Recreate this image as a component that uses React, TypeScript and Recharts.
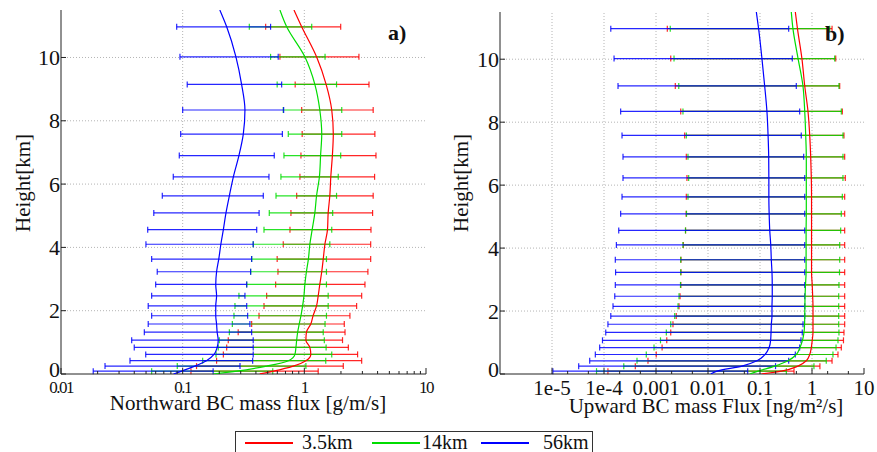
import React from 'react';
import { ScatterChart, Scatter, XAxis, YAxis, ReferenceLine, ErrorBar } from 'recharts';

const FONT = '"Liberation Serif", "Times New Roman", Times, serif';
const RED = '#ff0000';
const GREEN = '#00dd00';
const BLUE = '#0000ff';
const AXIS = '#222222';
const GRID = '#b4b4b4';

// model levels (km) of the spread bars, bottom to top
const HEIGHTS = [0.09, 0.25, 0.42, 0.62, 0.84, 1.07, 1.32, 1.58, 1.84, 2.15, 2.47, 2.83, 3.23, 3.63, 4.1, 4.56, 5.09, 5.63, 6.23, 6.9, 7.58, 8.34, 9.15, 10.02, 10.97];
// profile lines: surface, the levels, top of the frame
const LINE_HEIGHTS = [0, 0.09, 0.25, 0.42, 0.62, 0.84, 1.07, 1.32, 1.58, 1.84, 2.15, 2.47, 2.83, 3.23, 3.63, 4.1, 4.56, 5.09, 5.63, 6.23, 6.9, 7.58, 8.34, 9.15, 10.02, 10.97, 11.5];

const Y_TICKS = [0, 2, 4, 6, 8, 10];
const Y_TICK_LABELS = ['0', '2', '4', '6', '8', '10'];

// panel a) northward flux [g/m/s]
const A_MAJOR = [0.01, 0.1, 1, 10];
const A_MAJOR_LABELS = ['0.01', '0.1', '1', '10'];
const A_MINOR_STEPS = [2, 3, 4, 5, 6, 7, 8, 9];

const A_RED_LO = [0.117, 0.13, 0.19, 0.216, 0.23, 0.237, 0.286, 0.369, 0.424, 0.466, 0.49, 0.581, 0.607, 0.598, 0.671, 0.762, 0.776, 0.865, 0.92, 0.938, 0.96, 0.951, 0.841, 0.63, 0.481];
const A_RED_HI = [1.3, 2.09, 2.96, 2.74, 2.3, 2.06, 2.16, 2.13, 2.37, 2.69, 2.96, 3.15, 3.33, 3.51, 3.51, 3.53, 3.64, 3.68, 3.78, 3.88, 3.8, 3.68, 3.4, 2.81, 1.99];
const A_GREEN_LO = [0.0556, 0.0903, 0.146, 0.188, 0.196, 0.2, 0.242, 0.256, 0.264, 0.269, 0.29, 0.336, 0.362, 0.369, 0.38, 0.466, 0.515, 0.585, 0.642, 0.68, 0.738, 0.671, 0.598, 0.528, 0.353];
const A_GREEN_HI = [0.55, 1.03, 1.5, 1.68, 1.51, 1.46, 1.43, 1.48, 1.52, 1.57, 1.57, 1.52, 1.52, 1.52, 1.62, 1.68, 1.71, 1.84, 1.9, 1.99, 2.03, 2.03, 1.84, 1.48, 1.15];
const A_BLUE_LO = [0.0184, 0.023, 0.0369, 0.0497, 0.04, 0.0381, 0.0484, 0.0521, 0.0556, 0.0521, 0.0556, 0.06, 0.0618, 0.0556, 0.0499, 0.0516, 0.0579, 0.068, 0.0837, 0.0938, 0.0963, 0.1, 0.109, 0.095, 0.0893];
const A_BLUE_HI = [0.178, 0.296, 0.376, 0.38, 0.38, 0.38, 0.369, 0.357, 0.342, 0.336, 0.325, 0.336, 0.362, 0.369, 0.38, 0.406, 0.425, 0.46, 0.512, 0.566, 0.66, 0.676, 0.651, 0.61, 0.528];
const A_RED_MEAN = [0.43, 0.557, 0.81, 1.03, 1.13, 1.11, 1.03, 1.04, 1.13, 1.18, 1.26, 1.3, 1.34, 1.39, 1.43, 1.476, 1.55, 1.57, 1.62, 1.65, 1.7, 1.73, 1.68, 1.51, 1.26, 0.951, 0.822];
const A_GREEN_MEAN = [0.178, 0.278, 0.49, 0.74, 0.837, 0.853, 0.865, 0.881, 0.908, 0.938, 0.968, 0.993, 1.01, 1.04, 1.08, 1.11, 1.16, 1.22, 1.26, 1.33, 1.36, 1.39, 1.34, 1.22, 1.01, 0.716, 0.63];
const A_BLUE_MEAN = [0.084, 0.098, 0.126, 0.157, 0.181, 0.192, 0.196, 0.192, 0.19, 0.187, 0.187, 0.19, 0.187, 0.19, 0.198, 0.206, 0.216, 0.227, 0.242, 0.261, 0.29, 0.315, 0.325, 0.305, 0.274, 0.23, 0.202];

// panel b) upward flux [ng/m2/s]
const B_MAJOR = [1e-5, 1e-4, 1e-3, 0.01, 0.1, 1, 10];
const B_MAJOR_LABELS = ['1e-5', '1e-4', '0.001', '0.01', '0.1', '1', '10'];
const B_MINOR_STEPS = [2, 5];

const B_RED_LO = [1.19e-4, 4.0e-4, 7.01e-4, 1.01e-3, 1.31e-3, 1.61e-3, 1.92e-3, 2.12e-3, 2.45e-3, 2.77e-3, 2.9e-3, 3.0e-3, 3.02e-3, 3.02e-3, 3.35e-3, 3.7e-3, 3.8e-3, 3.83e-3, 3.94e-3, 3.83e-3, 3.56e-3, 2.99e-3, 2.35e-3, 1.92e-3, 1.65e-3];
const B_RED_HI = [0.451, 1.42, 2.43, 3.16, 3.66, 4.03, 4.12, 4.25, 4.25, 4.25, 4.25, 4.25, 4.25, 4.25, 4.25, 4.25, 4.25, 4.25, 4.37, 4.25, 4.12, 3.83, 3.41, 2.86, 2.43];
const B_GREEN_LO = [7.18e-5, 2.4e-4, 4.31e-4, 6.5e-4, 9.16e-4, 1.22e-3, 1.58e-3, 1.92e-3, 2.29e-3, 2.65e-3, 2.77e-3, 2.96e-3, 2.99e-3, 2.99e-3, 3.3e-3, 3.69e-3, 3.86e-3, 4.12e-3, 4.25e-3, 4.12e-3, 3.83e-3, 3.3e-3, 2.74e-3, 2.22e-3, 1.88e-3];
const B_GREEN_HI = [0.321, 1.09, 1.88, 2.53, 2.9, 3.16, 3.3, 3.26, 3.26, 3.26, 3.26, 3.3, 3.38, 3.41, 3.41, 3.56, 3.66, 3.83, 3.94, 3.94, 3.94, 3.66, 3.3, 2.73, 2.19];
const B_BLUE_LO = [1.04e-5, 3.26e-5, 5.31e-5, 6.81e-5, 8.26e-5, 9.35e-5, 1.08e-4, 1.19e-4, 1.35e-4, 1.49e-4, 1.61e-4, 1.65e-4, 1.67e-4, 1.65e-4, 1.73e-4, 1.92e-4, 2.09e-4, 2.22e-4, 2.32e-4, 2.32e-4, 2.22e-4, 2.09e-4, 1.86e-4, 1.56e-4, 1.35e-4];
const B_BLUE_HI = [0.058, 0.199, 0.356, 0.478, 0.579, 0.614, 0.65, 0.672, 0.725, 0.725, 0.725, 0.725, 0.725, 0.725, 0.725, 0.725, 0.725, 0.725, 0.725, 0.692, 0.622, 0.579, 0.499, 0.418, 0.356];
const B_RED_MEAN = [0.106, 0.257, 0.538, 0.777, 0.904, 0.97, 1.01, 1.045, 1.045, 1.045, 1.045, 1.03, 1.01, 0.98, 0.98, 0.98, 0.98, 0.98, 0.98, 0.97, 0.944, 0.904, 0.838, 0.725, 0.64, 0.525, 0.478];
const B_GREEN_MEAN = [0.0634, 0.0916, 0.192, 0.345, 0.499, 0.587, 0.656, 0.702, 0.72, 0.725, 0.73, 0.735, 0.75, 0.77, 0.77, 0.77, 0.77, 0.777, 0.777, 0.777, 0.777, 0.757, 0.725, 0.67, 0.54, 0.43, 0.4];
const B_BLUE_MEAN = [0.0113, 0.0149, 0.045, 0.0875, 0.125, 0.15, 0.16, 0.163, 0.165, 0.17, 0.17, 0.172, 0.172, 0.17, 0.165, 0.161, 0.154, 0.15, 0.148, 0.148, 0.147, 0.143, 0.136, 0.123, 0.109, 0.094, 0.085];

const LEGEND = [
  { name: '3.5km', color: RED },
  { name: '14km', color: GREEN },
  { name: '56km', color: BLUE },
];

interface Profile {
  color: string;
  lo: number[];
  hi: number[];
  mean: number[];
}

const barRows = (lo: number[], hi: number[]) =>
  HEIGHTS.map((h, i) => ({ x: lo[i], y: h, err: [0, hi[i] - lo[i]] }));
const lineRows = (mean: number[]) => LINE_HEIGHTS.map((h, i) => ({ x: mean[i], y: h }));

const minorTicks = (major: number[], steps: number[]) =>
  major.slice(0, -1).flatMap((d) => steps.map((s) => Number((d * s).toPrecision(3))));

const labelOf = (v: number, values: number[], labels: string[]) => {
  const i = values.findIndex((m) => Math.abs(m - v) <= Math.max(m, 1e-9) * 1e-6);
  return i >= 0 ? labels[i] : null;
};

const NoDot = () => <g />;

interface PanelProps {
  left: number;
  width: number;
  top: number;
  right: number;
  yAxisWidth: number;
  domain: [number, number];
  major: number[];
  majorLabels: string[];
  minorSteps: number[];
  tickFont: number;
  tickSpacing: number;
  tickBaseline: number;
  profiles: Profile[];
}

function Panel(p: PanelProps) {
  const height = 420;
  const xTicks = [...minorTicks(p.major, p.minorSteps), ...p.major].sort((a, b) => a - b);
  const gridX = p.major.filter((v) => v > p.domain[0] && v < p.domain[1]);
  const isMajor = (v: number) => p.major.some((m) => Math.abs(m - v) <= m * 1e-6);

  const bottomTick = (t: any) => {
    const v = t.payload.value;
    const label = labelOf(v, p.major, p.majorLabels);
    return (
      <g>
        <line x1={t.x} x2={t.x} y1={t.y} y2={t.y - (isMajor(v) ? 6 : 3)} stroke={AXIS} />
        {label && (
          <text x={t.x} y={t.y + p.tickBaseline} textAnchor="middle" fontSize={p.tickFont} letterSpacing={p.tickSpacing} fontFamily={FONT} fill="#111">
            {label}
          </text>
        )}
      </g>
    );
  };
  const topTick = (t: any) => (
    <line x1={t.x} x2={t.x} y1={t.y} y2={t.y + (isMajor(t.payload.value) ? 6 : 3)} stroke={AXIS} />
  );
  const leftTick = (t: any) => (
    <g>
      <line x1={t.x} x2={t.x + 5} y1={t.y} y2={t.y} stroke={AXIS} />
      <text x={t.x - 1} y={t.y + (t.payload.value === 0 ? 3 : 7.5)} textAnchor="end" fontSize={22} fontFamily={FONT} fill="#111">
        {labelOf(t.payload.value, Y_TICKS, Y_TICK_LABELS)}
      </text>
    </g>
  );
  const rightTick = (t: any) => <line x1={t.x} x2={t.x - 5} y1={t.y} y2={t.y} stroke={AXIS} />;

  return (
    <div style={{ position: 'absolute', left: p.left, top: 0 }}>
      <ScatterChart width={p.width} height={height} margin={{ top: p.top, right: p.right, bottom: 0, left: 0 }}>
        <XAxis xAxisId="b" type="number" dataKey="x" scale="log" domain={p.domain} allowDataOverflow ticks={xTicks} interval={0} height={46} tickSize={0} tickMargin={0} tickLine={false} axisLine={{ stroke: AXIS }} tick={bottomTick} />
        <XAxis xAxisId="t" orientation="top" type="number" dataKey="x" scale="log" domain={p.domain} allowDataOverflow ticks={xTicks} interval={0} height={0} tickSize={0} tickMargin={0} tickLine={false} axisLine={{ stroke: AXIS }} tick={topTick} />
        <YAxis yAxisId="l" type="number" dataKey="y" domain={[0, 11.5]} allowDataOverflow ticks={Y_TICKS} interval={0} width={p.yAxisWidth} tickSize={0} tickMargin={0} tickLine={false} axisLine={{ stroke: AXIS }} tick={leftTick} />
        <YAxis yAxisId="r" orientation="right" type="number" dataKey="y" domain={[0, 11.5]} allowDataOverflow ticks={Y_TICKS} interval={0} width={0} tickSize={0} tickMargin={0} tickLine={false} axisLine={{ stroke: AXIS }} tick={rightTick} />

        {gridX.map((v) => (
          <ReferenceLine key={`gx${v}`} xAxisId="b" yAxisId="l" x={v} stroke={GRID} strokeDasharray="1 2" />
        ))}
        {Y_TICKS.slice(1).map((v) => (
          <ReferenceLine key={`gy${v}`} xAxisId="b" yAxisId="l" y={v} stroke={GRID} strokeDasharray="1 2" />
        ))}

        {p.profiles.map((pr) => (
          <Scatter key={`bar${pr.color}`} xAxisId="b" yAxisId="l" data={barRows(pr.lo, pr.hi)} fill={pr.color} shape={NoDot} isAnimationActive={false}>
            <ErrorBar dataKey="err" direction="x" width={3} stroke={pr.color} strokeWidth={1.2} strokeOpacity={0.85} />
          </Scatter>
        ))}
        {p.profiles.map((pr) => (
          <Scatter key={`line${pr.color}`} xAxisId="b" yAxisId="l" data={lineRows(pr.mean)} fill={pr.color} line={{ stroke: pr.color, strokeWidth: 1.2 }} lineJointType="monotoneY" shape={NoDot} isAnimationActive={false} />
        ))}
      </ScatterChart>
    </div>
  );
}

const text = (extra: React.CSSProperties): React.CSSProperties => ({
  position: 'absolute',
  whiteSpace: 'nowrap',
  color: '#111',
  ...extra,
});

export default function App() {
  const profilesA: Profile[] = [
    { color: RED, lo: A_RED_LO, hi: A_RED_HI, mean: A_RED_MEAN },
    { color: GREEN, lo: A_GREEN_LO, hi: A_GREEN_HI, mean: A_GREEN_MEAN },
    { color: BLUE, lo: A_BLUE_LO, hi: A_BLUE_HI, mean: A_BLUE_MEAN },
  ];
  const profilesB: Profile[] = [
    { color: RED, lo: B_RED_LO, hi: B_RED_HI, mean: B_RED_MEAN },
    { color: GREEN, lo: B_GREEN_LO, hi: B_GREEN_HI, mean: B_GREEN_MEAN },
    { color: BLUE, lo: B_BLUE_LO, hi: B_BLUE_HI, mean: B_BLUE_MEAN },
  ];

  return (
    <div style={{ position: 'absolute', left: 0, top: 0, width: 877, height: 452, overflow: 'hidden', background: '#fff', fontFamily: FONT }}>
      <Panel left={0} width={440} top={10} right={14} yAxisWidth={61} domain={[0.01, 10]} major={A_MAJOR} majorLabels={A_MAJOR_LABELS} minorSteps={A_MINOR_STEPS} tickFont={17} tickSpacing={-1.5} tickBaseline={18.5} profiles={profilesA} />
      <Panel left={440} width={437} top={12} right={13} yAxisWidth={60} domain={[1e-6, 10]} major={B_MAJOR} majorLabels={B_MAJOR_LABELS} minorSteps={B_MINOR_STEPS} tickFont={21} tickSpacing={0} tickBaseline={20.5} profiles={profilesB} />

      <div style={text({ left: 23 - 75, top: 183 - 12, width: 150, height: 24, lineHeight: '24px', fontSize: 21, textAlign: 'center', transform: 'rotate(-90deg)' })}>Height[km]</div>
      <div style={text({ left: 461 - 75, top: 183 - 12, width: 150, height: 24, lineHeight: '24px', fontSize: 21, textAlign: 'center', transform: 'rotate(-90deg)' })}>Height[km]</div>

      <div style={text({ left: 248 - 200, top: 392.5, width: 400, lineHeight: '21px', fontSize: 21, textAlign: 'center' })}>Northward BC mass flux [g/m/s]</div>
      <div style={text({ left: 706 - 200, top: 395.5, width: 400, lineHeight: '21px', fontSize: 21, textAlign: 'center' })}>Upward BC mass Flux [ng/m²/s]</div>

      <div style={text({ left: 388, top: 21.5, lineHeight: '22px', fontSize: 22, fontWeight: 'bold' })}>a)</div>
      <div style={text({ left: 825, top: 22.5, lineHeight: '22px', fontSize: 22, fontWeight: 'bold' })}>b)</div>

      <div style={{ position: 'absolute', left: 235, top: 431, width: 356, height: 30, border: '1px solid #333', background: '#fff' }} />
      {LEGEND.map((item, i) => {
        const x0 = [245, 372, 481][i];
        const tx = [302, 422, 543][i];
        return (
          <React.Fragment key={item.name}>
            <div style={{ position: 'absolute', left: x0, top: 442, width: 48, height: 2, background: item.color }} />
            <div style={text({ left: tx, top: 431.5, lineHeight: '20px', fontSize: 20 })}>{item.name}</div>
          </React.Fragment>
        );
      })}
    </div>
  );
}
